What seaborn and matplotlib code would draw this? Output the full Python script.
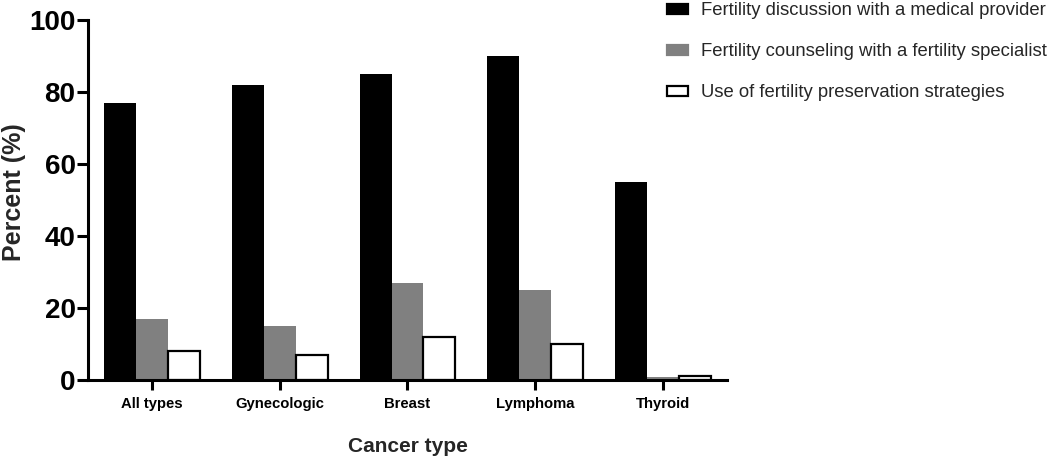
import matplotlib
matplotlib.use("Agg")
import matplotlib.pyplot as plt
import seaborn as sns
import pandas as pd
from matplotlib.patches import Patch

categories = ["All types", "Gynecologic", "Breast", "Lymphoma", "Thyroid"]
series_names = [
    "Fertility discussion with a medical provider",
    "Fertility counseling with a fertility specialist",
    "Use of fertility preservation strategies",
]
discussion = [77, 82, 85, 90, 55]
counseling = [17, 15, 27, 25, 0.8]
preservation = [8, 7, 12, 10, 1]
y_ticks = [0, 20, 40, 60, 80, 100]

colors = ["#000000", "#808080", "#ffffff"]

rows = []
for name, vals in zip(series_names, [discussion, counseling, preservation]):
    for c, v in zip(categories, vals):
        rows.append({"Cancer type": c, "Percent": v, "Measure": name})
df = pd.DataFrame(rows)

sns.set_style("ticks")
plt.rcParams["font.family"] = ["Liberation Sans", "DejaVu Sans"]

fig = plt.figure(figsize=(10.5, 4.61), dpi=100)
ax = fig.add_axes([88 / 1050, 1 - 380 / 461, (727 - 88) / 1050, 360 / 461])

sns.barplot(data=df, x="Cancer type", y="Percent", hue="Measure",
            order=categories, hue_order=series_names,
            palette=colors, saturation=1, width=0.75, errorbar=None,
            linewidth=0, ax=ax, legend=False)

# outline the white bars
n = len(categories)
for i, p in enumerate(ax.patches):
    if i // n == 2:
        p.set_edgecolor("black")
        p.set_linewidth(1.6)

ax.set_xlim(-0.5, len(categories) - 0.5)
ax.set_ylim(0, 100)
ax.set_yticks(y_ticks)
ax.set_yticklabels([str(t) for t in y_ticks], fontsize=20, fontweight="bold")
ax.set_xticks(range(len(categories)))
ax.set_xticklabels(categories, fontsize=10.7, fontweight="bold")
ax.set_ylabel("Percent (%)", fontsize=18, fontweight="bold")
ax.yaxis.set_label_coords(-0.097, 0.522)
ax.set_xlabel("Cancer type", fontsize=15, fontweight="bold", labelpad=19)

for s in ["top", "right"]:
    ax.spines[s].set_visible(False)
for s in ["left", "bottom"]:
    ax.spines[s].set_linewidth(2.2)
    ax.spines[s].set_color("black")
ax.tick_params(axis="y", length=8, width=2.2, pad=1, colors="black")
ax.tick_params(axis="x", length=7, width=2.2, pad=5, colors="black")

handles = [Patch(facecolor=c, edgecolor=("black" if c == "#ffffff" else c), linewidth=1.6)
           for c in colors]
fig.legend(handles, series_names, loc="upper left",
           bbox_to_anchor=(667 / 1050, 0.995), frameon=False,
           fontsize=13.3, handlelength=1.14, handleheight=0.49,
           labelspacing=1.3, handletextpad=0.7, borderpad=0, borderaxespad=0)

fig.savefig("out.png", dpi=100)
